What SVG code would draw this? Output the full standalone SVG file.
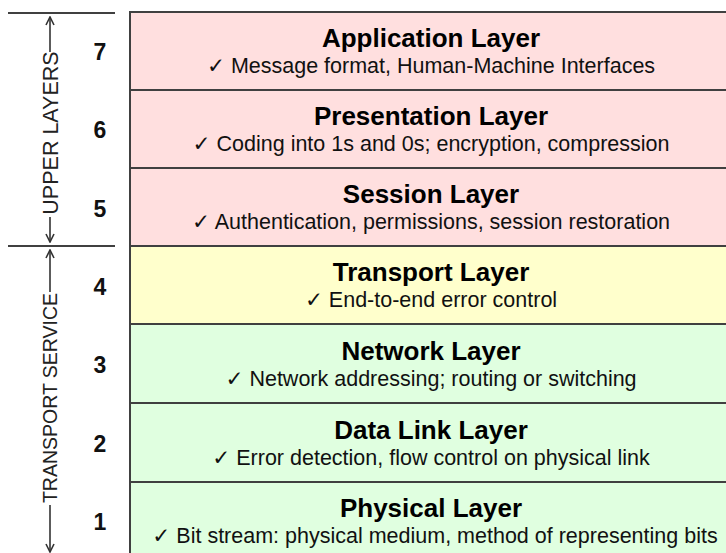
<svg xmlns="http://www.w3.org/2000/svg" width="726" height="553" viewBox="0 0 726 553">
<style>
.pink{fill:#ffdfdf}
.yellow{fill:#ffffcc}
.green{fill:#e0ffe0}
.box{stroke:#404040;stroke-width:2}
.title{font-family:"Liberation Sans",Arial,sans-serif;font-weight:bold;font-size:26px;fill:#000;text-anchor:middle}
.sub{font-family:"Liberation Sans","DejaVu Sans",Arial,sans-serif;font-size:21.5px;fill:#111;text-anchor:middle}
.num{font-family:"Liberation Sans",Arial,sans-serif;font-weight:bold;font-size:23px;fill:#111;text-anchor:middle}
.side{font-family:"Liberation Sans",Arial,sans-serif;font-size:19.5px;fill:#222;text-anchor:middle}
.rule{stroke:#404040;stroke-width:2;fill:none}
.arr{stroke:#333;stroke-width:1.6;fill:none}
</style>
<defs>
<marker id="ah" viewBox="0 0 10 10" refX="9" refY="5" markerWidth="10" markerHeight="10" markerUnits="userSpaceOnUse" orient="auto">
<path d="M1,1 L9,5 L1,9" fill="none" stroke="#333" stroke-width="1.6"/>
</marker>
</defs>
<rect width="726" height="553" fill="#fff"/>

<g id="layer7">
<rect class="pink box" x="130" y="12" width="610" height="78"/>
<text class="title" x="431" y="47">Application Layer</text>
<text class="sub" x="431" y="73">✓ Message format, Human-Machine Interfaces</text>
<text class="num" x="100" y="60">7</text>
</g>
<g id="layer6">
<rect class="pink box" x="130" y="90" width="610" height="78"/>
<text class="title" x="431" y="125">Presentation Layer</text>
<text class="sub" x="431" y="151">✓ Coding into 1s and 0s; encryption, compression</text>
<text class="num" x="100" y="138">6</text>
</g>
<g id="layer5">
<rect class="pink box" x="130" y="168" width="610" height="78"/>
<text class="title" x="431" y="203">Session Layer</text>
<text class="sub" x="431" y="229">✓ Authentication, permissions, session restoration</text>
<text class="num" x="100" y="217">5</text>
</g>
<g id="layer4">
<rect class="yellow box" x="130" y="246" width="610" height="78"/>
<text class="title" x="431" y="281">Transport Layer</text>
<text class="sub" x="431" y="307">✓ End-to-end error control</text>
<text class="num" x="100" y="295">4</text>
</g>
<g id="layer3">
<rect class="green box" x="130" y="324" width="610" height="79"/>
<text class="title" x="431" y="360">Network Layer</text>
<text class="sub" x="431" y="386">✓ Network addressing; routing or switching</text>
<text class="num" x="100" y="373">3</text>
</g>
<g id="layer2">
<rect class="green box" x="130" y="403" width="610" height="79"/>
<text class="title" x="431" y="439">Data Link Layer</text>
<text class="sub" x="431" y="465">✓ Error detection, flow control on physical link</text>
<text class="num" x="100" y="452">2</text>
</g>
<g id="layer1">
<rect class="green box" x="130" y="482" width="610" height="80"/>
<text class="title" x="431" y="517">Physical Layer</text>
<text class="sub" x="435" y="543">✓ Bit stream: physical medium, method of representing bits</text>
<text class="num" x="100" y="530">1</text>
</g>

<g id="upper-layers">
<line class="rule" x1="8" y1="13" x2="115" y2="13"/>
<line class="rule" x1="8" y1="246" x2="115" y2="246"/>
<text class="side" style="font-size:21.5px" transform="translate(57.5,133) rotate(-90)">UPPER LAYERS</text>
</g>
<g id="transport-service">
<text class="side" transform="translate(57,398) rotate(-90)">TRANSPORT SERVICE</text>
</g>

<g id="connectors">
<line class="arr" x1="50" y1="52" x2="50" y2="17" marker-end="url(#ah)"/>
<line class="arr" x1="50" y1="217" x2="50" y2="242" marker-end="url(#ah)"/>
<line class="arr" x1="50" y1="292" x2="50" y2="250" marker-end="url(#ah)"/>
<line class="arr" x1="50" y1="505" x2="50" y2="552" marker-end="url(#ah)"/>
</g>
</svg>
